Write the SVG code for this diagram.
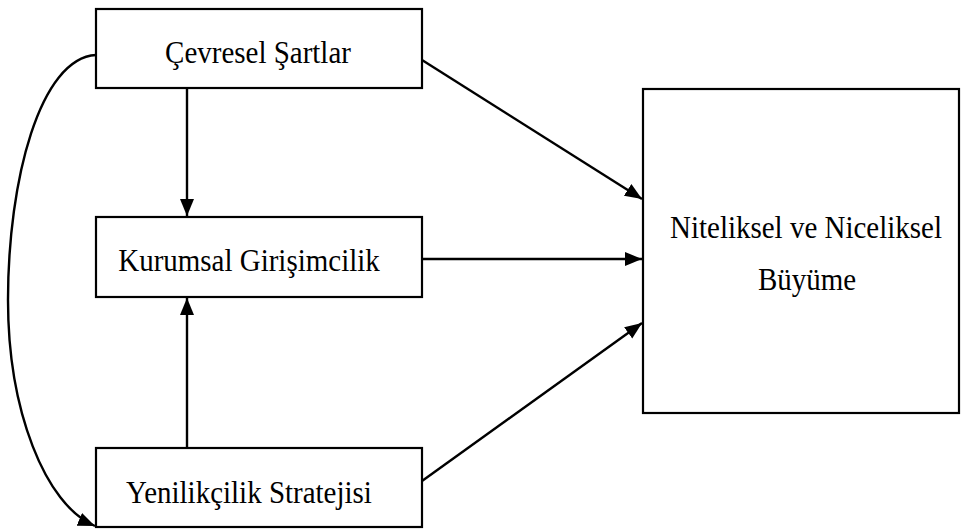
<svg xmlns="http://www.w3.org/2000/svg" width="961" height="530" viewBox="0 0 961 530">
<style>
.box{fill:#fff;stroke:#000;stroke-width:2.2}
.lbl{font-family:"Liberation Serif","Times New Roman",serif;font-size:29px;fill:#000;text-anchor:middle}
.con{fill:none;stroke:#000;stroke-width:2.4}
</style>
<defs>
<marker id="ah" markerUnits="userSpaceOnUse" markerWidth="18" markerHeight="18" viewBox="0 0 18 18" refX="17" refY="9" orient="auto">
<path d="M0,2 L17,9 L0,16 Z" fill="#000"/>
</marker>
</defs>
<g id="connectors">
<line class="con" x1="187" y1="89" x2="187" y2="216" marker-end="url(#ah)"/>
<line class="con" x1="187" y1="447" x2="187" y2="298" marker-end="url(#ah)"/>
<line class="con" x1="422" y1="60" x2="642" y2="199" marker-end="url(#ah)"/>
<line class="con" x1="422" y1="259" x2="642" y2="259" marker-end="url(#ah)"/>
<line class="con" x1="422" y1="481" x2="642" y2="323" marker-end="url(#ah)"/>
<path class="con" d="M96,55 C40,58 8,180 8,300 C8,410 45,505 95,526" marker-end="url(#ah)"/>
</g>
<g id="n1"><rect class="box" x="96" y="9" width="326" height="79"/><text class="lbl" transform="translate(258,63) scale(1,1.12)">Çevresel Şartlar</text></g>
<g id="n2"><rect class="box" x="96" y="217" width="326" height="80"/><text class="lbl" transform="translate(249,271) scale(1,1.12)">Kurumsal Girişimcilik</text></g>
<g id="n3"><rect class="box" x="96" y="448" width="326" height="79"/><text class="lbl" transform="translate(249,503) scale(1,1.12)">Yenilikçilik Stratejisi</text></g>
<g id="n4"><rect class="box" x="643" y="89" width="316" height="324"/><text class="lbl" transform="translate(806,238) scale(1,1.12)">Niteliksel ve Niceliksel</text><text class="lbl" transform="translate(807,290) scale(1,1.12)">Büyüme</text></g>
</svg>
